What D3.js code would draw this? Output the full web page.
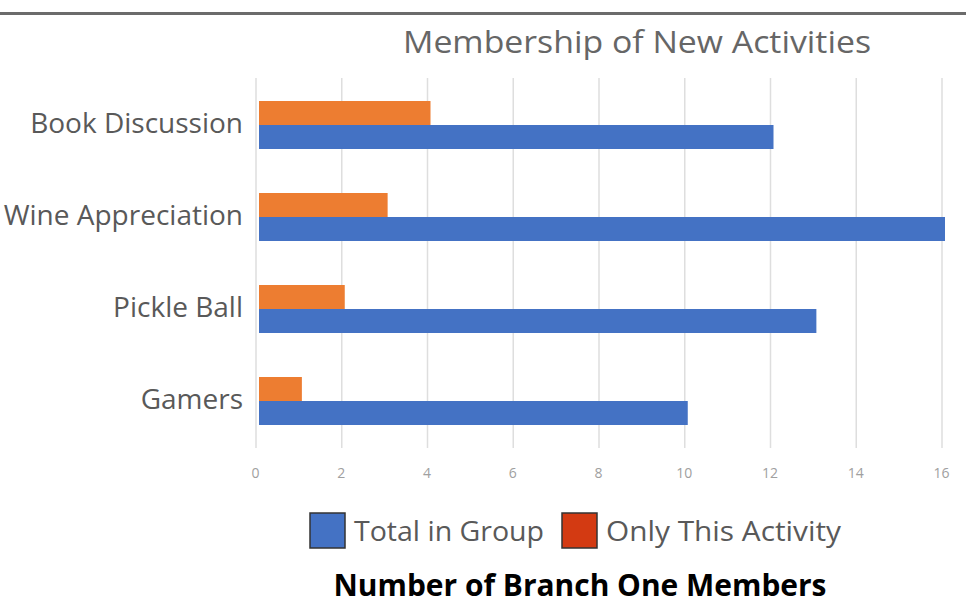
<!DOCTYPE html>
<html>
<head>
<meta charset="utf-8">
<script src="https://cdn.jsdelivr.net/npm/d3@7"></script>
<style>
  body { margin: 0; background: #fff; }
  text { font-family: "Open Sans", "Noto Sans", sans-serif; }
</style>
</head>
<body>
<script>
// chart data
const categories = ['Book Discussion', 'Wine Appreciation', 'Pickle Ball', 'Gamers'];
const totalInGroup = [12, 16, 13, 10];
const onlyThisActivity = [4, 3, 2, 1];
const xTicks = [0, 2, 4, 6, 8, 10, 12, 14, 16];
const seriesNames = ['Total in Group', 'Only This Activity'];

const W = 966, H = 610;
const svg = d3.select('body').append('svg')
    .attr('width', W)
    .attr('height', H);

// frame line at top
svg.append('rect')
    .attr('x', 0).attr('y', 12)
    .attr('width', W).attr('height', 3)
    .attr('fill', '#6b6b6b');

const x = d3.scaleLinear().domain([0, 16]).range([259, 945]);
const y = d3.scaleBand().domain(categories).range([79, 447]);
const barH = 24;

// gridlines
svg.append('g')
    .selectAll('line')
    .data(xTicks)
    .enter().append('line')
    .attr('x1', d => x(d) - 3).attr('x2', d => x(d) - 3)
    .attr('y1', 78).attr('y2', 448)
    .attr('stroke', '#dedede')
    .attr('stroke-width', 1.5);

// bars
const rows = categories.map((c, i) => ({ c, total: totalInGroup[i], only: onlyThisActivity[i] }));
const center = d => y(d.c) + y.bandwidth() / 2;

svg.append('g').selectAll('rect')
    .data(rows).enter().append('rect')
    .attr('x', x(0))
    .attr('y', d => center(d) - barH)
    .attr('width', d => x(d.only) - x(0))
    .attr('height', barH)
    .attr('fill', '#ed7d31');

svg.append('g').selectAll('rect')
    .data(rows).enter().append('rect')
    .attr('x', x(0))
    .attr('y', d => center(d))
    .attr('width', d => x(d.total) - x(0))
    .attr('height', barH)
    .attr('fill', '#4472c4');

// category labels
svg.append('g').selectAll('text')
    .data(rows).enter().append('text')
    .attr('x', 243)
    .attr('y', d => center(d))
    .attr('dy', '0.27em')
    .attr('text-anchor', 'end')
    .attr('font-size', 28)
    .attr('fill', '#595959')
    .text(d => d.c);

// x axis tick labels
const xAxis = svg.append('g')
    .attr('transform', 'translate(-4,462)')
    .call(d3.axisBottom(x).tickValues(xTicks).tickSize(0).tickPadding(6));
xAxis.select('.domain').remove();
xAxis.selectAll('text')
    .attr('font-family', '"Open Sans", sans-serif')
    .attr('font-size', 14)
    .attr('fill', '#a0a0a0');

// title
svg.append('text')
    .attr('x', 637).attr('y', 53)
    .attr('text-anchor', 'middle')
    .attr('font-size', 31)
    .attr('fill', '#666')
    .attr('textLength', 468)
    .attr('lengthAdjust', 'spacingAndGlyphs')
    .text('Membership of New Activities');

// legend
const legendColors = ['#4472c4', '#d33a12'];
const legendX = [310, 562];
const legendW = [190, 235];
const lg = svg.append('g').selectAll('g')
    .data(seriesNames).enter().append('g')
    .attr('transform', (d, i) => `translate(${legendX[i]},513)`);
lg.append('rect')
    .attr('width', 35).attr('height', 35)
    .attr('fill', (d, i) => legendColors[i])
    .attr('stroke', '#333').attr('stroke-width', 1.5);
lg.append('text')
    .attr('x', 44).attr('y', 28)
    .attr('font-size', 28)
    .attr('fill', '#595959')
    .attr('textLength', (d, i) => legendW[i])
    .attr('lengthAdjust', 'spacingAndGlyphs')
    .text(d => d);

// x axis title
svg.append('text')
    .attr('x', 580).attr('y', 596)
    .attr('text-anchor', 'middle')
    .attr('font-size', 30)
    .attr('font-weight', 'bold')
    .attr('fill', '#000')
    .attr('textLength', 493)
    .attr('lengthAdjust', 'spacingAndGlyphs')
    .text('Number of Branch One Members');
</script>
</body>
</html>
